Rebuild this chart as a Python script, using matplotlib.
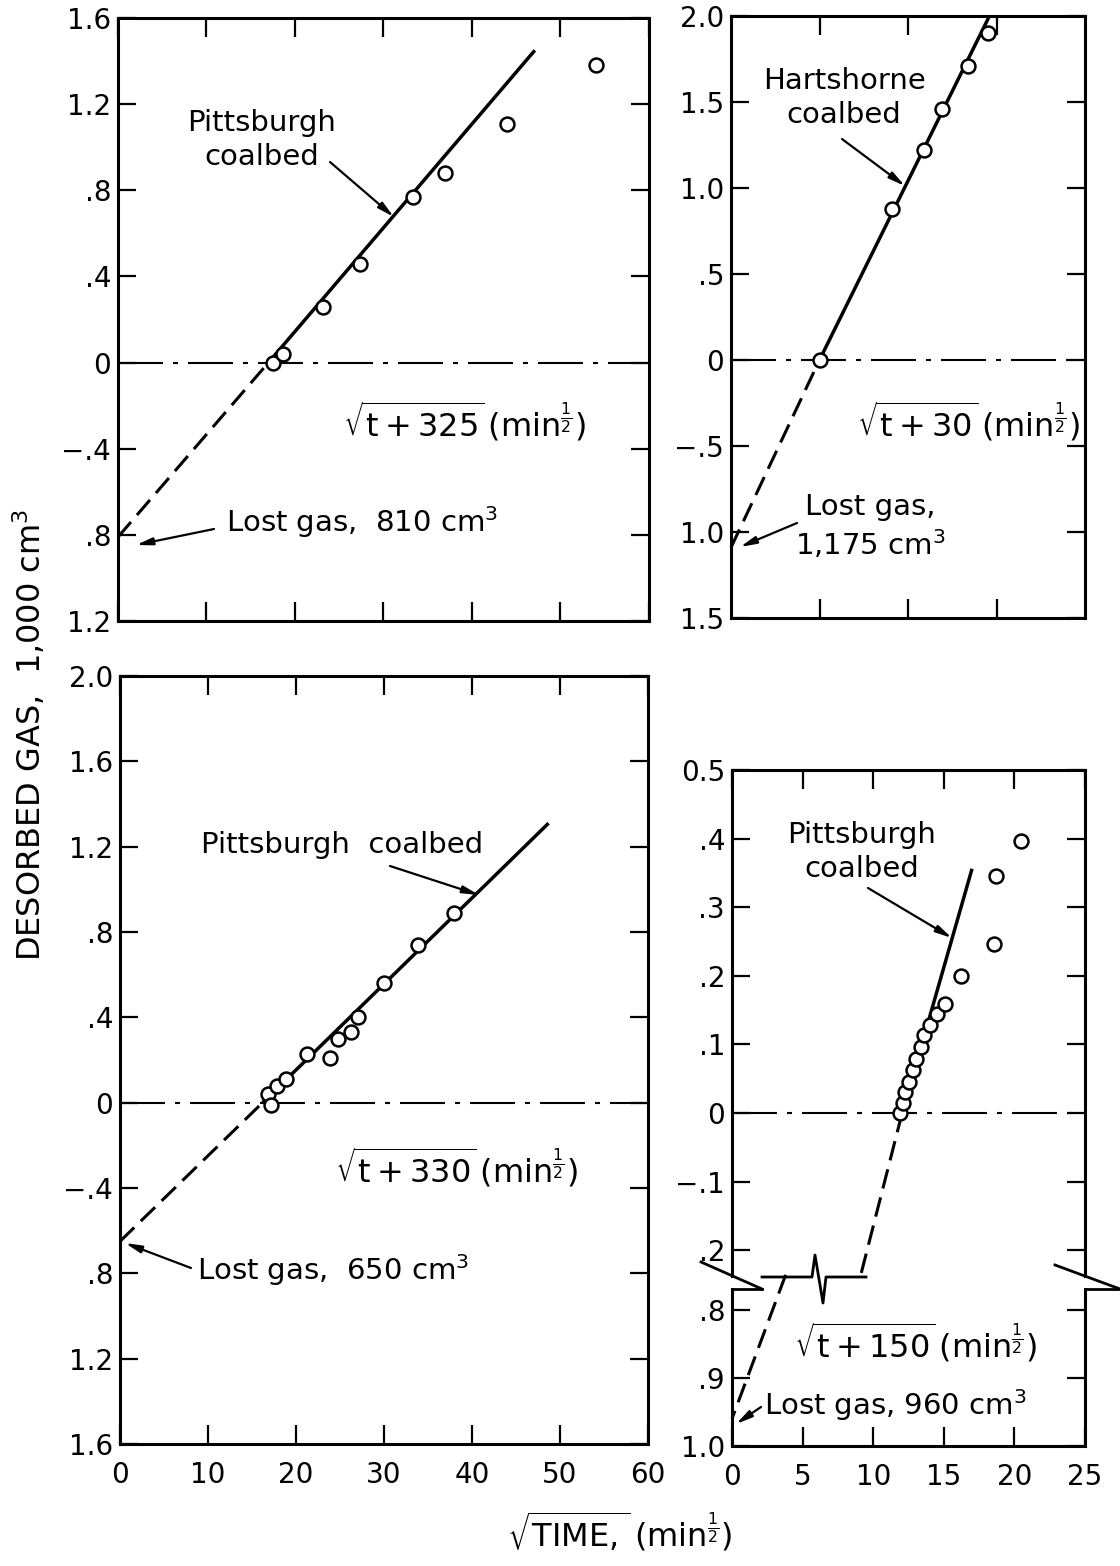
import matplotlib
matplotlib.use("Agg")
import matplotlib.pyplot as plt
from matplotlib.lines import Line2D
import matplotlib.patches as mpatches

plt.rcParams['font.family'] = ['DejaVu Sans']
plt.rcParams['mathtext.fontset'] = 'dejavusans'

# ---------------- data ----------------
# Top-left: Pittsburgh coalbed, sqrt(t+325)
tl_x = [17.5, 18.7, 23.2, 27.4, 33.3, 37.0, 43.9, 54.0]
tl_y = [0.00, 0.04, 0.26, 0.46, 0.77, 0.88, 1.11, 1.38]
tl_fit_x = [17.0, 47.1]
tl_fit_y = [0.0, 1.45]
tl_ext_x = [0.0, 17.0]
tl_ext_y = [-0.81, 0.0]

# Top-right: Hartshorne coalbed, sqrt(t+30)
tr_x = [5.0, 9.1, 10.9, 11.9, 13.4, 14.5]
tr_y = [0.0, 0.88, 1.22, 1.46, 1.71, 1.90]
tr_fit_x = [5.0, 14.6]
tr_fit_y = [0.0, 2.0]
tr_ext_x = [0.0, 5.0]
tr_ext_y = [-1.09, 0.0]

# Bottom-left: Pittsburgh coalbed, sqrt(t+330)
bl_x = [16.8, 17.2, 17.8, 18.9, 21.3, 23.9, 24.8, 26.3, 27.0, 30.0, 33.9, 38.0]
bl_y = [0.04, -0.01, 0.08, 0.11, 0.23, 0.21, 0.30, 0.33, 0.40, 0.56, 0.74, 0.89]
bl_fit_x = [16.2, 48.7]
bl_fit_y = [0.0, 1.31]
bl_ext_x = [0.0, 16.2]
bl_ext_y = [-0.65, 0.0]

# Bottom-right: Pittsburgh coalbed, sqrt(t+150) (broken axis)
br_x = [11.93, 12.14, 12.28, 12.56, 12.81, 13.05, 13.37, 13.60, 14.02, 14.49,
        15.05, 16.20, 18.56, 18.72, 20.47]
br_y = [0.000, 0.015, 0.031, 0.045, 0.063, 0.079, 0.096, 0.114, 0.128, 0.145,
        0.159, 0.200, 0.247, 0.345, 0.396]
br_fit_x = [12.05, 17.0]
br_fit_y = [0.0, 0.356]
br_ext_up_x = [12.05, 9.1]
br_ext_up_y = [0.0, -0.2376]
br_ext_lo_x = [3.8, 0.0]
br_ext_lo_y = [-0.749, -0.96]

# tick values / labels
tl_yticks = [1.6, 1.2, 0.8, 0.4, 0.0, -0.4, -0.8, -1.2]
tl_ylabels = ["1.6", "1.2", ".8", ".4", "0", "\u2212.4", ".8", "1.2"]
tr_yticks = [2.0, 1.5, 1.0, 0.5, 0.0, -0.5, -1.0, -1.5]
tr_ylabels = ["2.0", "1.5", "1.0", ".5", "0", "\u2212.5", "1.0", "1.5"]
bl_yticks = [2.0, 1.6, 1.2, 0.8, 0.4, 0.0, -0.4, -0.8, -1.2, -1.6]
bl_ylabels = ["2.0", "1.6", "1.2", ".8", ".4", "0", "\u2212.4", ".8", "1.2", "1.6"]
bru_yticks = [0.5, 0.4, 0.3, 0.2, 0.1, 0.0, -0.1, -0.2]
bru_ylabels = ["0.5", ".4", ".3", ".2", ".1", "0", "\u2212.1", ".2"]
brl_yticks = [-0.8, -0.9, -1.0]
brl_ylabels = [".8", ".9", "1.0"]
left_xticks = [0, 10, 20, 30, 40, 50, 60]
left_xlabels = ["0", "10", "20", "30", "40", "50", "60"]
tr_xticks = [5, 10, 15]
br_xticks = [0, 5, 10, 15, 20, 25]
br_xlabels = ["0", "5", "10", "15", "20", "25"]

# ---------------- layout ----------------
W, H = 1120, 1566
fig = plt.figure(figsize=(W / 100, H / 100), dpi=100)

def rect(l, r, t, b):
    return [l / W, 1 - b / H, (r - l) / W, (b - t) / H]

def fx(p):
    return p / W

def fy(p):
    return 1 - p / H

FS_TICK = 20
FS = 21
FS_MATH = 23
DASH_ZERO = (0, (21.6, 4.8, 2.4, 4.8))
DASH_EXT = (0, (6.5, 3.0))

def style(ax, xlim, ylim, xticks, yticks, ylabels, xlabels=None,
          top=True, bottom=True):
    ax.set_xlim(*xlim)
    ax.set_ylim(*ylim)
    for s in ax.spines.values():
        s.set_linewidth(2.2)
    ax.set_xticks(xticks)
    if xlabels is None:
        ax.set_xticklabels([])
    else:
        ax.set_xticklabels(xlabels)
    ax.set_yticks(yticks)
    ax.set_yticklabels(ylabels)
    ax.tick_params(axis='y', direction='in', length=13, width=1.6,
                   left=True, right=True, labelsize=FS_TICK, pad=5)
    ax.tick_params(axis='x', direction='in', length=14, width=1.6,
                   top=top, bottom=bottom, labelsize=FS_TICK, pad=12)

def draw(ax, x, y, fx_, fy_, ex, ey, zero=True):
    if zero:
        ax.axhline(0, color='k', lw=1.5, ls=DASH_ZERO, zorder=1)
    ax.plot(fx_, fy_, color='k', lw=2.5, solid_capstyle='butt', zorder=2)
    ax.plot(ex, ey, color='k', lw=2.2, ls=DASH_EXT, zorder=2, clip_on=False)
    ax.plot(x, y, 'o', ms=10, mfc='white', mec='k', mew=1.8, zorder=5,
            clip_on=False)

# Top-left
ax1 = fig.add_axes(rect(118, 649, 18, 621))
style(ax1, (0, 60), (-1.2, 1.6), left_xticks, tl_yticks, tl_ylabels)
draw(ax1, tl_x, tl_y, tl_fit_x, tl_fit_y, tl_ext_x, tl_ext_y)

# Top-right
ax2 = fig.add_axes(rect(731, 1085, 16, 618))
style(ax2, (0, 20), (-1.5, 2.0), tr_xticks, tr_yticks, tr_ylabels)
draw(ax2, tr_x, tr_y, tr_fit_x, tr_fit_y, tr_ext_x, tr_ext_y)

# Bottom-left
ax3 = fig.add_axes(rect(120, 648, 676, 1444))
style(ax3, (0, 60), (-1.6, 2.0), left_xticks, bl_yticks, bl_ylabels,
      xlabels=left_xlabels)
draw(ax3, bl_x, bl_y, bl_fit_x, bl_fit_y, bl_ext_x, bl_ext_y)

# Bottom-right (upper part)
ax4 = fig.add_axes(rect(732, 1085, 770, 1276))
style(ax4, (0, 25), (-0.2376, 0.5), br_xticks, bru_yticks, bru_ylabels,
      bottom=False)
ax4.spines['bottom'].set_visible(False)
draw(ax4, br_x, br_y, br_fit_x, br_fit_y, br_ext_up_x, br_ext_up_y)

# Bottom-right (lower part)
ax5 = fig.add_axes(rect(732, 1085, 1289, 1446))
style(ax5, (0, 25), (-1.0, -0.7697), br_xticks, brl_yticks, brl_ylabels,
      xlabels=br_xlabels, top=False)
ax5.spines['top'].set_visible(False)
ax5.plot(br_ext_lo_x, br_ext_lo_y, color='k', lw=2.2, ls=DASH_EXT,
         clip_on=False)

# axis-break marks (figure pixels)
def fline(pts, lw=2.0):
    xs = [fx(p[0]) for p in pts]
    ys = [fy(p[1]) for p in pts]
    fig.add_artist(Line2D(xs, ys, color='k', lw=lw, transform=fig.transFigure))

fline([(701, 1262), (762, 1289)])
fline([(732, 1289), (762, 1289)])
fline([(1055, 1265), (1120, 1289)])
fline([(1085, 1289), (1120, 1289)])
fline([(762, 1277), (812, 1277), (815, 1255), (823, 1303), (826, 1277), (866, 1277)])

# ---------------- text ----------------
def ftext(x, y, s, **kw):
    fig.text(fx(x), fy(y), s, ha=kw.pop('ha', 'center'), va=kw.pop('va', 'center'),
             fontsize=kw.pop('fontsize', FS), linespacing=1.25, **kw)

def farrow(tail, head):
    fig.add_artist(mpatches.FancyArrowPatch(
        (fx(tail[0]), fy(tail[1])), (fx(head[0]), fy(head[1])),
        transform=fig.transFigure,
        arrowstyle='-|>,head_length=0.8,head_width=0.18',
        mutation_scale=12, lw=1.6, color='k', shrinkA=0, shrinkB=0))

def sq(expr):
    return r"$\sqrt{\mathrm{" + expr + r"}}\,(\mathrm{min}^{\frac{1}{2}})$"

ftext(262, 140, "Pittsburgh\ncoalbed")
farrow((330, 162), (394, 217))
ftext(465, 422, sq("t+325"), fontsize=FS_MATH)
ftext(226, 522, "Lost gas,  810 cm$^3$", ha='left')
farrow((214, 529), (136, 545))

ftext(844, 98, "Hartshorne\ncoalbed")
farrow((842, 139), (905, 186))
ftext(968, 422, sq("t+30"), fontsize=FS_MATH)
ftext(870, 527, "Lost gas,\n1,175 cm$^3$")
farrow((797, 523), (740, 547))

ftext(342, 845, "Pittsburgh  coalbed")
farrow((390, 866), (479, 895))
ftext(457, 1168, sq("t+330"), fontsize=FS_MATH)
ftext(197, 1270, "Lost gas,  650 cm$^3$", ha='left')
farrow((191, 1268), (125, 1243))

ftext(862, 852, "Pittsburgh\ncoalbed")
farrow((868, 888), (952, 938))
ftext(916, 1343, sq("t+150"), fontsize=FS_MATH)
ftext(764, 1405, "Lost gas, 960 cm$^3$", ha='left')
farrow((761, 1407), (736, 1424))

ftext(30, 735, "DESORBED GAS,  1,000 cm$^3$", rotation=90, fontsize=23)
ftext(620, 1532, r"$\sqrt{\mathrm{TIME,}}\,(\mathrm{min}^{\frac{1}{2}})$", fontsize=23)

fig.savefig("out.png", dpi=100, facecolor='white')
